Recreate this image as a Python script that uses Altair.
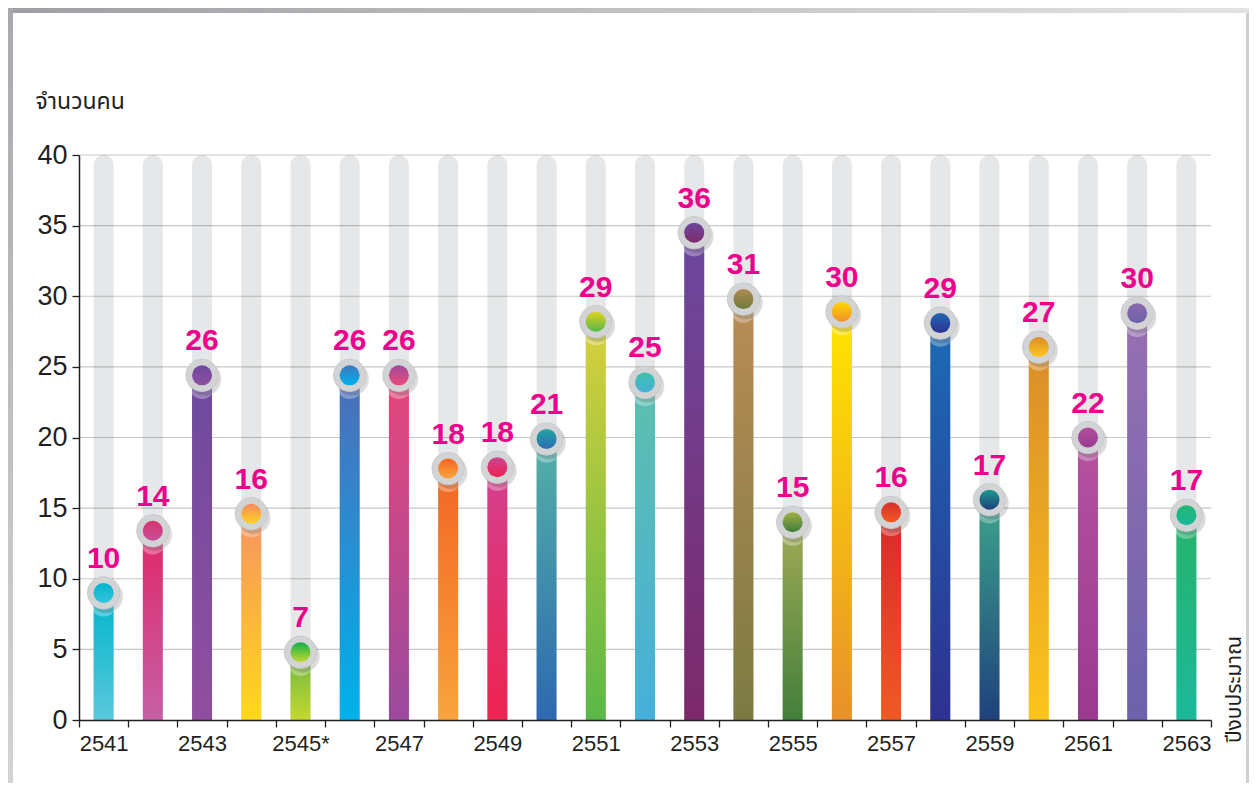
import altair as alt
import pandas as pd

# ---- data ----
years = ["2541", "2542", "2543", "2544", "2545*", "2546", "2547", "2548", "2549", "2550",
         "2551", "2552", "2553", "2554", "2555", "2556", "2557", "2558", "2559", "2560",
         "2561", "2562", "2563"]
values = [9.0, 13.4, 24.4, 14.6, 4.8, 24.4, 24.4, 17.8, 17.9, 19.9,
          28.2, 23.9, 34.5, 29.8, 14.0, 28.9, 14.7, 28.1, 15.6, 26.4,
          20.0, 28.8, 14.5]
labels = ["10", "14", "26", "16", "7", "26", "26", "18", "18", "21",
          "29", "25", "36", "31", "15", "30", "16", "29", "17", "27",
          "22", "30", "17"]
y_ticks = [0, 5, 10, 15, 20, 25, 30, 35, 40]

# ---- styles ----
bar_top = ["#00b5cc", "#e0286a", "#6d4a9e", "#f7935f", "#6bb744", "#4e6db8", "#e6477b", "#f26523",
           "#d4408f", "#52b2a6", "#d8d03c", "#5cc0ae", "#6c489f", "#b98c55", "#a0aa57", "#ffe600",
           "#d9292b", "#1c6bb5", "#3da38c", "#d98d2a", "#b552a0", "#9770b2", "#26b46c"]
bar_bottom = ["#5ac8db", "#c660a6", "#914ea0", "#ffd81c", "#c4d82f", "#00b1ec", "#9b4a9e", "#f9a43c",
              "#ee2350", "#2d68b1", "#5ab847", "#45b0da", "#7c296a", "#7c7a43", "#437f3b", "#e9902a",
              "#f05a24", "#2e3191", "#1f417c", "#fcc41d", "#9b3990", "#6c62ab", "#1bb89a"]
dot_top = ["#00b4cc", "#d8336f", "#6e4a9d", "#f58a60", "#13ae4b", "#3f76bd", "#a04a9c", "#f26522",
           "#cc4594", "#22a6a0", "#e2d120", "#40c0a8", "#6b47a0", "#b08a54", "#a3b044", "#ffd800",
           "#d8302b", "#2068b2", "#1c9a8c", "#db8d2a", "#b04f9e", "#8b6aae", "#22b573"]
dot_bottom = ["#35c4dc", "#c5509a", "#8c4fa0", "#ffd41e", "#c4d92e", "#00b3ee", "#ec4a78", "#f9a53c",
              "#ee2050", "#2d6bb3", "#54b948", "#45b0dc", "#7f2a6a", "#6e7c3c", "#3f7d3a", "#f0902a",
              "#f15a24", "#2e3192", "#1f3f7c", "#ffc61c", "#9a3b91", "#6c62ab", "#1bb89a"]

INK = "#231f20"
NUM_FONT = "Liberation Sans"
THAI_FONT = "Noto Sans Thai, Noto Sans Thai Looped, Loma, Garuda, Noto Sans, sans-serif"
W, H = 1132, 565


def vgrad(c1, c2):
    return {"gradient": "linear", "x1": 0, "y1": 0, "x2": 0, "y2": 1,
            "stops": [{"offset": 0, "color": c1}, {"offset": 1, "color": c2}]}


def hgrad(c1, c2):
    return {"gradient": "linear", "x1": 0, "y1": 0, "x2": 1, "y2": 0,
            "stops": [{"offset": 0, "color": c1}, {"offset": 1, "color": c2}]}


df = pd.DataFrame({"year": years, "value": values, "label": labels})
grid_df = pd.DataFrame({"value": y_ticks[1:]})

x_axis = alt.Axis(
    title="ปีงบประมาณ", tickBand="extent", labelAngle=0,
    labelExpr="toNumber(replace(datum.value, '*', '')) % 2 == 1 ? datum.value : ''",
    labelFontSize=22, labelFont=NUM_FONT, labelColor=INK, labelPadding=6,
    tickSize=7, tickColor=INK, tickWidth=1.3, domainColor=INK, domainWidth=1.5,
    titleAngle=270, titleX=1155, titleY=-31, titleAlign="center", titleBaseline="middle",
    titleFontSize=21, titleFontWeight="normal", titleFont=THAI_FONT, titleColor=INK,
    grid=False, zindex=1,
)
y_axis = alt.Axis(
    title="จำนวนคน", values=y_ticks, grid=False,
    labelFontSize=27, labelFont=NUM_FONT, labelColor=INK, labelPadding=5,
    tickSize=7, tickColor=INK, tickWidth=1.3, domainColor=INK, domainWidth=1.5,
    titleAngle=0, titleX=-44, titleY=-47, titleAlign="left", titleBaseline="alphabetic",
    titleFontSize=23, titleFontWeight="normal", titleFont=THAI_FONT, titleColor=INK,
    zindex=1,
)
x_scale = alt.Scale(domain=years, paddingInner=0, paddingOuter=0)
y_scale = alt.Scale(domain=[0, 40], nice=False)

X = alt.X("year:N", sort=years, scale=x_scale, axis=x_axis)
Y = alt.Y("value:Q", scale=y_scale, axis=y_axis)

base = alt.Chart(df)

one = alt.Data(values=[{"k": 1}])
frame_top = alt.Chart(one).mark_rect(color=hgrad("#9d9fa2", "#e3e4e5")).encode(
    x=alt.value(-71), x2=alt.value(1170), y=alt.value(-147), y2=alt.value(-142))
frame_left = alt.Chart(one).mark_rect(color=vgrad("#a7a9ac", "#d1d3d4")).encode(
    x=alt.value(-71), x2=alt.value(-66), y=alt.value(-147), y2=alt.value(628))
frame_right = alt.Chart(one).mark_rect(color="#cfd0d2").encode(
    x=alt.value(1167), x2=alt.value(1170), y=alt.value(-142), y2=alt.value(628))

gray_bars = base.mark_bar(size=20, color="#e6e7e8", cornerRadiusTopLeft=10,
                          cornerRadiusTopRight=10).encode(x=X, y=alt.Y(datum=40, scale=y_scale, axis=y_axis))

grid = alt.Chart(grid_df).mark_rule(color="#000000", opacity=0.22, strokeWidth=1.2).encode(
    y=Y, x=alt.value(0), x2=alt.value(W))

bar_layers = []
for i, yr in enumerate(years):
    bar_layers.append(
        base.transform_filter(alt.datum.year == yr)
        .mark_bar(size=20, color=vgrad(bar_top[i], bar_bottom[i]))
        .encode(x=X, y=Y)
    )

glow = base.mark_circle(size=650, color="#ffffff", opacity=0.3, yOffset=11).encode(x=X, y=Y)
shadow1 = base.mark_circle(size=1150, color="#000000", opacity=0.07, xOffset=2, yOffset=3).encode(x=X, y=Y)
shadow2 = base.mark_circle(size=1080, color="#000000", opacity=0.08, xOffset=3, yOffset=4).encode(x=X, y=Y)
ring = base.mark_circle(size=1060, color="#d1d3d4", opacity=1, stroke="#c6c8ca",
                        strokeWidth=0.8).encode(x=X, y=Y)

dot_layers = []
for i, yr in enumerate(years):
    dot_layers.append(
        base.transform_filter(alt.datum.year == yr)
        .mark_circle(size=400, opacity=1, color=vgrad(dot_top[i], dot_bottom[i]))
        .encode(x=X, y=Y)
    )

text = base.mark_text(dy=-25, baseline="alphabetic", align="center", fontSize=30,
                      fontWeight="bold", font=NUM_FONT, color="#ec008c").encode(
    x=X, y=Y, text="label:N")

chart = alt.layer(
    frame_top, frame_left, frame_right, gray_bars, grid, *bar_layers,
    glow, shadow1, shadow2, ring, *dot_layers, text
).properties(
    width=W, height=H,
    autosize=alt.AutoSizeParams(type="none"),
    padding={"left": 71, "top": 147, "right": 38, "bottom": 63},
    background="#ffffff",
).configure_view(stroke=None)

chart.save("out.html", embed_options={"renderer": "svg", "actions": False})
